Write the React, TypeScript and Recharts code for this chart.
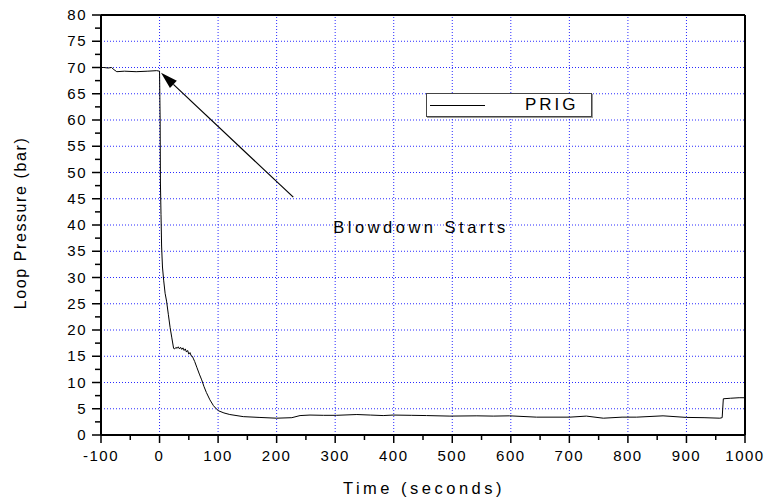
import * as React from 'react';
import { Line, LineChart, ReferenceLine, XAxis, YAxis } from 'recharts';

const TIME = [
  -100, -95, -88, -82, -78, -73, -60, -40, -20, -5, 0,
  1, 1.5, 2.5, 3.5, 5, 7, 9.5, 12, 15, 18, 21, 24,
  26, 28, 30, 32, 34, 36, 38, 40, 42, 44, 46, 48, 50, 52, 54, 56, 58,
  60, 64, 68, 72, 76, 80, 86, 92, 96, 101, 110, 120, 143, 170, 200, 226,
  240, 257, 280, 302, 337, 360, 382, 399, 430, 456, 496, 542, 570, 598,
  644, 701, 729, 758, 790, 815, 860, 900, 930, 957, 961, 963, 975, 990, 1000,
];
const PRESSURE = [
  70.0, 70.0, 69.9, 70.0, 69.6, 69.2, 69.3, 69.2, 69.3, 69.4, 69.3,
  60, 48, 42, 36, 32, 29.5, 27, 25.5, 23, 20.5, 18.5, 16.5,
  16.4, 16.7, 16.5, 16.8, 16.4, 16.7, 16.3, 16.6, 16.1, 16.4, 15.8, 16.1, 15.4, 15.7, 15.1, 15.0, 14.5,
  14.0, 12.8, 11.6, 10.5, 9.2, 8.1, 6.7, 5.6, 5.1, 4.6, 4.2, 3.9, 3.5, 3.35, 3.2, 3.3,
  3.7, 3.8, 3.75, 3.75, 3.9, 3.8, 3.7, 3.8, 3.75, 3.7, 3.6, 3.65, 3.6, 3.65,
  3.4, 3.4, 3.6, 3.2, 3.4, 3.4, 3.65, 3.35, 3.3, 3.2, 3.3, 6.9, 7.0, 7.1, 7.1,
];

const X_TICKS = Array.from({ length: 23 }, (_, i) => -100 + i * 50);
const Y_TICKS = Array.from({ length: 33 }, (_, i) => i * 2.5);
const X_GRID = [0, 100, 200, 300, 400, 500, 600, 700, 800, 900];
const Y_GRID = [5, 10, 15, 20, 25, 30, 35, 40, 45, 50, 55, 60, 65, 70, 75];

const ARROW_TAIL = { x: 228.4, y: 45.3 };
const ARROW_HEAD = { x: 2.5, y: 69.0 };

const data = TIME.map((t, i) => ({ t, p: PRESSURE[i] }));

const FONT = '"Liberation Sans", Arial, sans-serif';
const GRID_BLUE = '#2a2aff';

function XTick(props: any) {
  const { x, y, payload } = props;
  const major = payload.value % 100 === 0;
  return (
    <g>
      <line x1={x} x2={x} y1={y} y2={y + (major ? 8 : 5)} stroke="#000" strokeWidth={1.5} />
      {major && (
        <text x={x} y={y + 26} textAnchor="middle" fontSize={15} letterSpacing={1.5}
          fontFamily={FONT} fill="#000">
          {payload.value}
        </text>
      )}
    </g>
  );
}

function YTick(props: any) {
  const { x, y, payload } = props;
  const major = payload.value % 5 === 0;
  return (
    <g>
      <line x1={x - (major ? 9 : 6)} x2={x + (major ? 1 : 0)} y1={y} y2={y} stroke="#000" strokeWidth={1.5} />
      {major && (
        <text x={x - 14} y={y + 5} textAnchor="end" fontSize={15} letterSpacing={1.5}
          fontFamily={FONT} fill="#000">
          {payload.value}
        </text>
      )}
    </g>
  );
}

function Arrow(props: any) {
  const { x1, y1, x2, y2 } = props;
  const dx = x2 - x1;
  const dy = y2 - y1;
  const len = Math.sqrt(dx * dx + dy * dy);
  const ux = dx / len;
  const uy = dy / len;
  const L = 17;
  const W = 5;
  const bx = x2 - ux * L;
  const by = y2 - uy * L;
  return (
    <g>
      <line x1={x1} y1={y1} x2={bx} y2={by} stroke="#000" strokeWidth={1.2} />
      <polygon
        points={`${x2},${y2} ${bx - uy * W},${by + ux * W} ${bx + uy * W},${by - ux * W}`}
        fill="#000"
      />
    </g>
  );
}

function LegendBox() {
  return (
    <div style={{
      position: 'absolute', left: 426, top: 93,
      width: 164, height: 22, border: '1px solid #444', boxShadow: '1px 1px 0 #999',
      background: '#fff', fontFamily: FONT,
    }}>
      <div style={{ position: 'absolute', left: 3, top: 11, width: 55, borderTop: '1px solid #000' }} />
      <div style={{
        position: 'absolute', left: 98, top: 1, fontSize: 17, letterSpacing: 3, color: '#000',
        lineHeight: '20px',
      }}>PRIG</div>
    </div>
  );
}

export default function App() {
  return (
    <div style={{ position: 'absolute', left: 0, top: 0, width: 767, height: 499, background: '#fff' }}>
      <LineChart width={767} height={499} data={data}
        margin={{ top: 15, right: 22, left: 0, bottom: 0 }}>
        <XAxis dataKey="t" type="number" domain={[-100, 1000]} ticks={X_TICKS} interval={0}
          tickSize={0} tickMargin={0} tickLine={false} tick={<XTick />} height={64}
          axisLine={{ stroke: '#000', strokeWidth: 2 }} allowDataOverflow />
        <YAxis type="number" domain={[0, 80]} ticks={Y_TICKS} interval={0}
          tickSize={0} tickMargin={0} tickLine={false} tick={<YTick />} width={101}
          axisLine={{ stroke: '#000', strokeWidth: 2 }} allowDataOverflow />
        {X_GRID.map((v) => (
          <ReferenceLine key={'gx' + v} x={v} stroke={GRID_BLUE} strokeDasharray="1 2" strokeWidth={1} />
        ))}
        {Y_GRID.map((v) => (
          <ReferenceLine key={'gy' + v} y={v} stroke={GRID_BLUE} strokeDasharray="1 2" strokeWidth={1} />
        ))}
        <ReferenceLine x={1000} stroke="#000" strokeWidth={2} />
        <ReferenceLine y={80} stroke="#000" strokeWidth={2} />
        <ReferenceLine segment={[ARROW_TAIL, ARROW_HEAD]} shape={(p: any) => <Arrow {...p} />} />
        <Line type="linear" dataKey="p" stroke="#000" strokeWidth={1} dot={false}
          isAnimationActive={false} name="PRIG" />
      </LineChart>
      <LegendBox />
      <svg width={767} height={499} style={{ position: 'absolute', left: 0, top: 0, pointerEvents: 'none' }}>
        <text x={421} y={233} textAnchor="middle" fontSize={16.5} letterSpacing={3.5}
          fontFamily={FONT} fill="#000">Blowdown Starts</text>
        <text x={424} y={494} textAnchor="middle" fontSize={16.5} letterSpacing={3.5}
          fontFamily={FONT} fill="#000">Time (seconds)</text>
        <text x={26} y={223} textAnchor="middle" fontSize={16} letterSpacing={1.6}
          fontFamily={FONT} fill="#000" transform="rotate(-90 26 223)">Loop Pressure (bar)</text>
      </svg>
    </div>
  );
}
